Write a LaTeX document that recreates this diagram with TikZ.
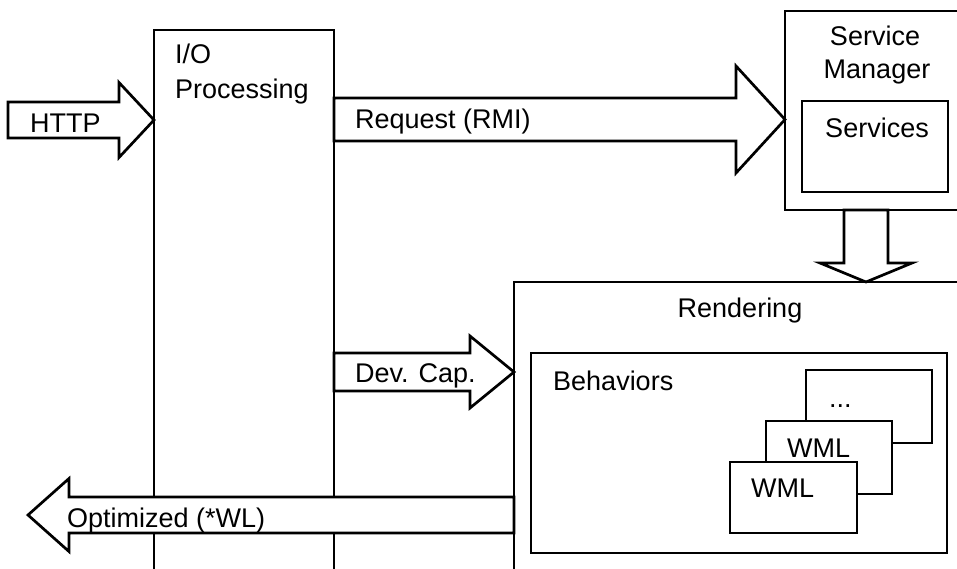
\documentclass[tikz,border=0pt]{standalone}
\usepackage{fontspec}
\setmainfont{Liberation Sans}
\usetikzlibrary{calc}

\tikzset{
  box/.style={draw, line width=2.7pt, fill=white, inner sep=0pt, outer sep=0pt, anchor=north west},
  fat/.style={draw, line width=2.7pt, fill=white, line join=miter},
  lbl/.style={inner sep=0pt, anchor=base west, font=\fontsize{27}{32}\selectfont},
  clbl/.style={inner sep=0pt, anchor=base, font=\fontsize{27}{32}\selectfont},
}

% horizontal block arrow: #1 tail, #2 tip, #3 half body, #4 half head, #5 signed head length
\newcommand\blockh[5]{%
  \draw[fat] ($(#1)+(0,-#3)$) -- ($(#2)+({-1*(#5)},-#3)$) -- ($(#2)+({-1*(#5)},-#4)$)
    -- (#2) -- ($(#2)+({-1*(#5)},#4)$) -- ($(#2)+({-1*(#5)},#3)$) -- ($(#1)+(0,#3)$) -- cycle;}
% downward block arrow: #1 tail, #2 tip, #3 half body, #4 half head, #5 head length
\newcommand\blockv[5]{%
  \draw[fat] ($(#1)+(-#3,0)$) -- ($(#2)+(-#3,-#5)$) -- ($(#2)+(-#4,-#5)$)
    -- (#2) -- ($(#2)+(#4,-#5)$) -- ($(#2)+(#3,-#5)$) -- ($(#1)+(#3,0)$) -- cycle;}

\begin{document}
\begin{tikzpicture}[x=1pt, y=-1pt]
  \useasboundingbox (0,0) rectangle (957,568);
  \clip (0,0) rectangle (957,568);

  % main blocks
  \node[box, minimum width=180pt, minimum height=600pt] (io) at (154,30) {};
  \node[box, minimum width=480pt, minimum height=330pt] (rend) at (514,282) {};
  \node[box, minimum width=220pt, minimum height=199pt] (sm) at (785,11) {};
  \node[box, minimum width=146pt, minimum height=91pt] (svc) at (802,101) {};
  \node[box, minimum width=416pt, minimum height=200pt] (beh) at (531,353) {};
  \node[box, minimum width=126pt, minimum height=73pt] (more) at (806,370) {};
  \node[box, minimum width=126pt, minimum height=73pt] (wmlb) at (766,421) {};
  \node[box, minimum width=127pt, minimum height=71pt] (wmlf) at (730,462) {};

  % block labels
  \node[lbl] (tio1) at (175,63) {I/O};
  \node[lbl] (tio2) at (175,98) {Processing};
  \node[clbl] (tsm1) at (875,45) {Service};
  \node[clbl] (tsm2) at (877,78) {Manager};
  \node[clbl] (tsvc) at (877,137) {Services};
  \node[clbl] (trend) at (740,317) {Rendering};
  \node[lbl] (tbeh) at (553,390) {Behaviors};
  \node[lbl] (tmore) at (829,407) {...};
  \node[lbl] (twmlb) at (787,457) {WML};
  \node[lbl] (twmlf) at (751,497) {WML};

  % arrow end points
  \coordinate (httpS) at (8,120);
  \coordinate (httpT) at (httpS -| io.west);
  \coordinate (reqy) at (0,119.5);
  \coordinate (reqS) at (reqy -| io.east);
  \coordinate (reqT) at (reqy -| sm.west);
  \coordinate (devy) at (0,372);
  \coordinate (devS) at (devy -| io.east);
  \coordinate (devT) at (devy -| rend.west);
  \coordinate (opty) at (0,515);
  \coordinate (optS) at (opty -| rend.west);
  \coordinate (optT) at (28,515);
  \coordinate (dnx) at (866,0);
  \coordinate (dnS) at (dnx |- sm.south);
  \coordinate (dnT) at (dnx |- rend.north);

  % block arrows
  \blockh{httpS}{httpT}{18}{37.5}{35}
  \blockh{reqS}{reqT}{21.5}{53.5}{49}
  \blockh{devS}{devT}{19}{36}{44}
  \blockh{optS}{optT}{18}{36.5}{-41}
  \blockv{dnS}{dnT}{22}{46}{19}

  % arrow labels
  \node[lbl] (thttp) at (30,132) {HTTP};
  \node[lbl] (treq) at (355,128) {Request (RMI)};
  \node[lbl] (tdev) at (355,382) {Dev. Cap.};
  \node[lbl] (topt) at (67,527) {Optimized (*WL)};
\end{tikzpicture}
\end{document}
